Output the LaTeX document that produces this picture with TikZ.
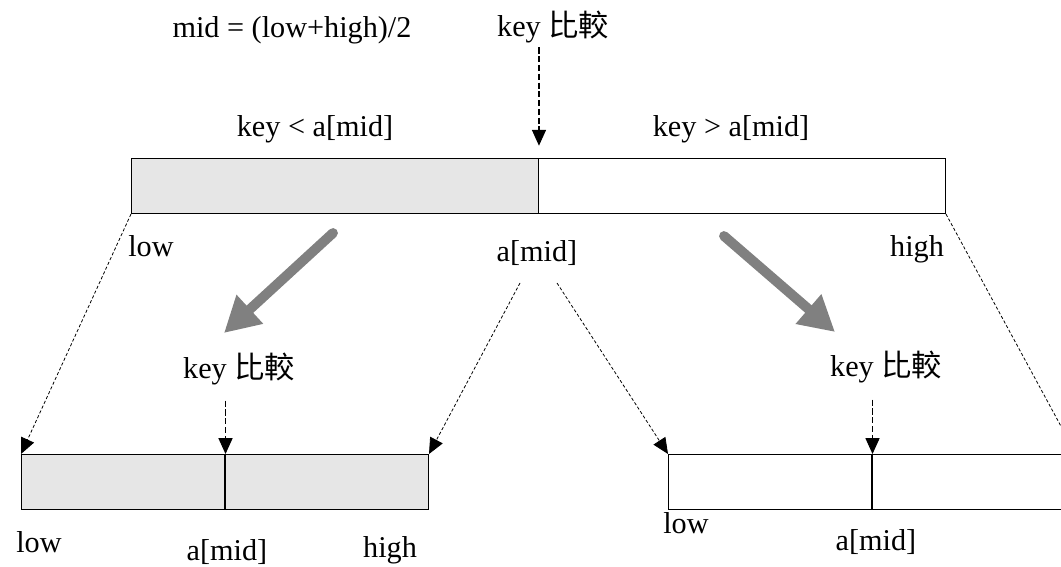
\documentclass[tikz,border=0pt]{standalone}
\usepackage{fontspec}
\setmainfont{Liberation Serif}
\newfontfamily\cjk{Noto Sans CJK TC}
\usepackage{xcolor}
\usepackage{tikz}
\usetikzlibrary{arrows.meta}
\definecolor{cellgray}{HTML}{E6E6E6}
\definecolor{biggray}{HTML}{808080}
\tikzstyle{lbl} = [font=\fontsize{17.2}{20}\selectfont,inner sep=2pt,anchor=base]
\tikzstyle{cell} = [draw=black,line width=0.6pt,inner sep=0pt,anchor=north west,minimum height=1.1cm]
\tikzstyle{keyarrow} = [line width=0.6pt,dash pattern=on 3.5pt off 1.5pt,-{Triangle[length=9pt,width=8pt]}]
\tikzstyle{rangearrow} = [line width=0.45pt,dash pattern=on 1.8pt off 1.2pt,-{Triangle[length=9pt,width=8pt]}]
\tikzstyle{splitarrow} = [biggray,line width=5.6pt,line cap=round,-{Triangle[length=20pt,width=21pt]}]

\begin{document}
\begin{tikzpicture}[x=0.02cm,y=-0.02cm]
  \useasboundingbox (0,0) rectangle (1061,567);
  \clip (0,0) rectangle (1061,567);
  % top array
  \node[cell,fill=cellgray,minimum width=8.14cm] (tl) at (131,158) {};
  \node[cell,fill=white,minimum width=8.14cm] (tr) at (538,158) {};
  \node[lbl] (formula) at (292,38) {mid = (low+high)/2};
  \node[lbl] (cmp) at (553,37) {key {\cjk 比較}};
  \node[lbl] (less) at (315,137) {key < a[mid]};
  \node[lbl] (more) at (731,137) {key > a[mid]};
  \node[lbl] (low) at (151,257) {low};
  \node[lbl] (amid) at (537,262) {a[mid]};
  \node[lbl] (high) at (917,257) {high};
  \draw [keyarrow,shorten >=7pt] (cmp.south -| tl.north east) -- (tl.north east);

  % left half
  \node[cell,fill=cellgray,minimum width=4.07cm] (bll) at (21,454) {};
  \node[cell,fill=cellgray,minimum width=4.07cm] (blr) at (224.5,454) {};
  \node[lbl] (cmpl) at (239,378) {key {\cjk 比較}};
  \node[lbl] (lowl) at (39,552) {low};
  \node[lbl] (amidl) at (227,560) {a[mid]};
  \node[lbl] (highl) at (390,557) {high};
  \draw [keyarrow,shorten <=7pt] (cmpl.south -| bll.north east) -- (bll.north east);

  % right half
  \node[cell,fill=white,minimum width=4.07cm] (brl) at (668,454) {};
  \node[cell,fill=white,minimum width=4.07cm] (brr) at (871.5,454) {};
  \node[lbl] (cmpr) at (886,377) {key {\cjk 比較}};
  \node[lbl] (lowr) at (686,533) {low};
  \node[lbl] (amidr) at (876,550) {a[mid]};
  \draw [keyarrow,shorten <=7pt] (cmpr.south -| brl.north east) -- (brl.north east);

  % range arrows
  \coordinate (midfromL) at (520,283);
  \coordinate (midfromR) at (557,283);
  \draw [rangearrow] (tl.south west) -- (bll.north west);
  \draw [rangearrow] (midfromL) -- (blr.north east);
  \draw [rangearrow] (midfromR) -- (brl.north west);
  \draw [rangearrow] (tr.south east) -- (brr.north east);

  % split arrows
  \coordinate (gl0) at (333,233);
  \coordinate (gl1) at (224,333);
  \coordinate (gr0) at (724,236);
  \coordinate (gr1) at (835,332);
  \draw [splitarrow] (gl0) -- (gl1);
  \draw [splitarrow] (gr0) -- (gr1);
\end{tikzpicture}
\end{document}
